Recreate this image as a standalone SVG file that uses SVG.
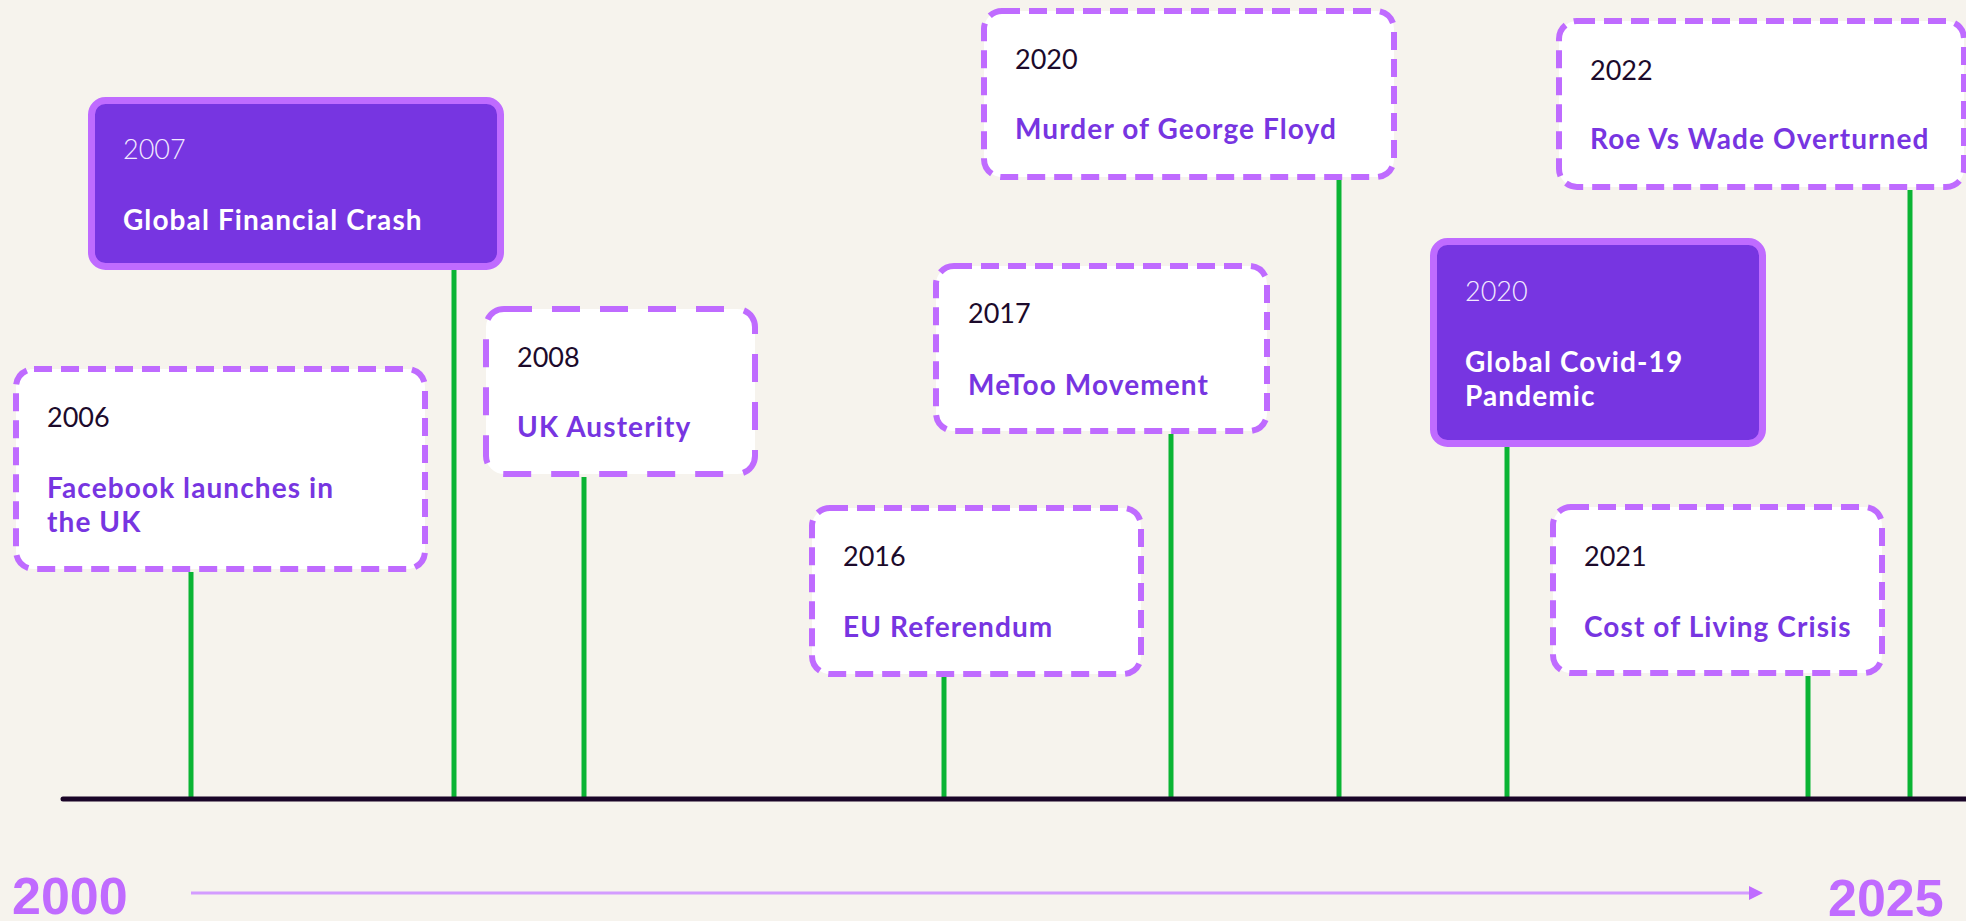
<svg xmlns="http://www.w3.org/2000/svg" width="1966" height="921" viewBox="0 0 1966 921">
  <style>
    .dash { fill: #ffffff; stroke: #bf6bff; stroke-width: 6; stroke-dasharray: 18 9; }
    .dash-l { fill: #ffffff; stroke: #bf6bff; stroke-width: 6; stroke-dasharray: 28 20; }
    .solid { fill: #7735e1; stroke: #bf6bff; stroke-width: 7; }
    .yr { font-family: Lato, "Open Sans", sans-serif; font-size: 27px; font-weight: 400; fill: #1c0a2b; }
    .yr-w { font-family: Lato, "Open Sans", sans-serif; font-size: 27px; font-weight: 300; fill: #f3eaff; }
    .tt { font-family: Lato, "Open Sans", sans-serif; font-size: 28px; font-weight: 700; letter-spacing: 1.1px; fill: #7735e1; }
    .tt-w { font-family: Lato, "Open Sans", sans-serif; font-size: 28px; font-weight: 700; letter-spacing: 1.1px; fill: #ffffff; }
    .stem { stroke: #0ab434; stroke-width: 5; fill: none; }
    .big { font-family: "Liberation Sans", Arial, sans-serif; font-size: 52px; font-weight: 700; fill: #c06bff; }
  </style>
  <rect x="0" y="0" width="1966" height="921" fill="#f6f3ed"/>

  <g id="connectors">
    <line class="stem" x1="191" y1="572" x2="191" y2="799"/>
    <line class="stem" x1="454" y1="270" x2="454" y2="799"/>
    <line class="stem" x1="584" y1="477" x2="584" y2="801"/>
    <line class="stem" x1="944" y1="677" x2="944" y2="799"/>
    <line class="stem" x1="1171" y1="434" x2="1171" y2="799"/>
    <line class="stem" x1="1339" y1="180" x2="1339" y2="799"/>
    <line class="stem" x1="1507" y1="447" x2="1507" y2="799"/>
    <line class="stem" x1="1808" y1="676" x2="1808" y2="799"/>
    <line class="stem" x1="1910" y1="190" x2="1910" y2="799"/>
  </g>

  <g id="axis">
    <line x1="63" y1="799" x2="1972" y2="799" stroke="#1a0528" stroke-width="5" stroke-linecap="round"/>
  </g>

  <g id="n2006">
    <rect class="dash" x="16" y="369" width="409" height="200" rx="18"/>
    <text class="yr" x="47" y="427">2006</text>
    <text class="tt" x="47" y="498">Facebook launches in</text>
    <text class="tt" x="47" y="532">the UK</text>
  </g>

  <g id="n2007">
    <rect class="solid" x="91.5" y="100.5" width="409" height="166" rx="14"/>
    <text class="yr-w" x="123" y="159">2007</text>
    <text class="tt-w" x="123" y="230">Global Financial Crash</text>
  </g>

  <g id="n2008">
    <rect class="dash-l" x="486" y="309" width="269" height="165" rx="18"/>
    <text class="yr" x="517" y="367">2008</text>
    <text class="tt" x="517" y="437">UK Austerity</text>
  </g>

  <g id="n2016">
    <rect class="dash" x="812" y="508" width="329" height="166" rx="18"/>
    <text class="yr" x="843" y="566">2016</text>
    <text class="tt" x="843" y="637">EU Referendum</text>
  </g>

  <g id="n2017">
    <rect class="dash" x="936" y="266" width="331" height="165" rx="18"/>
    <text class="yr" x="968" y="323">2017</text>
    <text class="tt" x="968" y="395">MeToo Movement</text>
  </g>

  <g id="n2020-floyd">
    <rect class="dash" x="984" y="11" width="410" height="166" rx="18"/>
    <text class="yr" x="1015" y="69">2020</text>
    <text class="tt" x="1015" y="139">Murder of George Floyd</text>
  </g>

  <g id="n2020-covid">
    <rect class="solid" x="1433.5" y="241.5" width="329" height="202" rx="14"/>
    <text class="yr-w" x="1465" y="301">2020</text>
    <text class="tt-w" x="1465" y="372">Global Covid-19</text>
    <text class="tt-w" x="1465" y="406">Pandemic</text>
  </g>

  <g id="n2021">
    <rect class="dash" x="1553" y="507" width="329" height="166" rx="18"/>
    <text class="yr" x="1584" y="566">2021</text>
    <text class="tt" x="1584" y="637">Cost of Living Crisis</text>
  </g>

  <g id="n2022">
    <rect class="dash" x="1559" y="21" width="405" height="166" rx="18"/>
    <text class="yr" x="1590" y="80">2022</text>
    <text class="tt" x="1590" y="149">Roe Vs Wade Overturned</text>
  </g>

  <g id="scale">
    <text class="big" x="12" y="914">2000</text>
    <line x1="191" y1="893" x2="1751" y2="893" stroke="#d39cff" stroke-width="3"/>
    <polygon points="1749,886 1763,893 1749,900" fill="#c06bff"/>
    <text class="big" x="1828" y="916">2025</text>
  </g>
</svg>
